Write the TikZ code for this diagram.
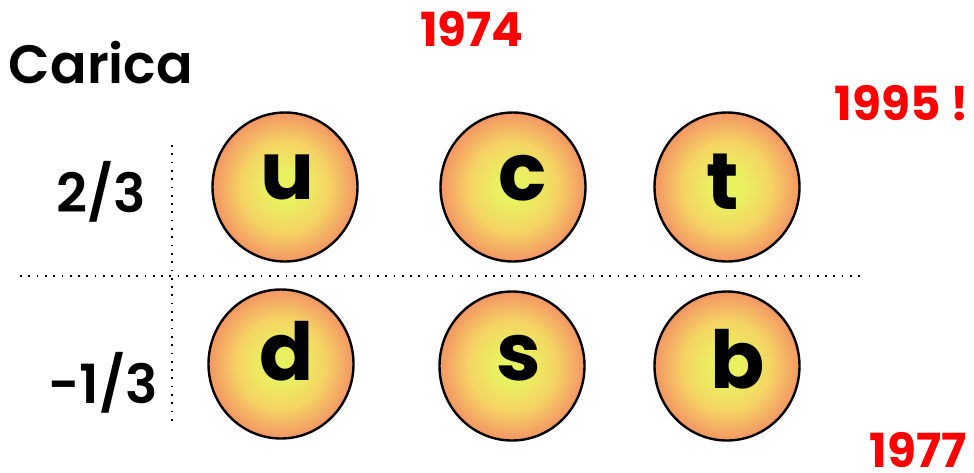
\documentclass[tikz,border=0pt]{standalone}
\usepackage{fontspec}
\setmainfont{Poppins}[BoldFont={Poppins SemiBold}]
\newfontfamily\popbold{Poppins Bold}
\usetikzlibrary{shapes.geometric}
\definecolor{qyel}{RGB}{232,242,96}
\definecolor{qmid}{RGB}{245,212,100}
\definecolor{qorg}{RGB}{243,150,100}
\definecolor{qred}{RGB}{255,0,0}
\pgfdeclareradialshading{quarkshade}{\pgfpoint{0bp}{0bp}}{color(0bp)=(qyel); color(5bp)=(qyel); color(15bp)=(qmid); color(25bp)=(qorg); color(50bp)=(qorg)}
\tikzset{
  quark/.style={ellipse, draw=black, line width=2.4pt, minimum width=145pt, minimum height=149pt, inner sep=0pt, shading=quarkshade},
  qletter/.style={anchor=base, inner sep=0pt, font=\fontsize{80}{90}\selectfont\popbold},
  bigtext/.style={anchor=base, inner sep=0pt, font=\fontsize{54}{62}\selectfont\bfseries},
  year/.style={anchor=base, inner sep=0pt, text=qred, font=\fontsize{47}{56}\selectfont\popbold},
  dotline/.style={line width=1.7pt, dash pattern=on 1.7pt off 6.6pt}
}
\begin{document}
\begin{tikzpicture}[x=1pt,y=-1pt]
\useasboundingbox (0,0) rectangle (974,472);
% dotted axes
\coordinate (hl) at (20,276);
\coordinate (hr) at (862,276);
\coordinate (vt) at (172,145);
\coordinate (vb) at (172,427);
\draw[dotline] (hl) -- (hr);
\draw[dotline] (vt) -- (vb);
% quark circles
\node[quark] (cu) at (285,187) {};
\node[quark] (cc) at (513,187) {};
\node[quark] (ct) at (727,187) {};
\node[quark] (cd) at (281,364) {};
\node[quark] (cs) at (512,366) {};
\node[quark] (cb) at (727,366) {};
% letters
\node[qletter] (lu) at (287,199) {u};
\node[qletter] (lc) at (523,200) {c};
\node[qletter] (lt) at (723,209) {t};
\node[qletter] (ld) at (287,380) {d};
\node[qletter] (ls) at (519,380) {s};
\node[qletter] (lb) at (738,388) {b};
% labels
\node[bigtext] (carica) at (101,83) {Carica};
\node[bigtext] (p23) at (101,212) {2/3};
\node[bigtext] (m13) at (103,403) {-1/3};
% years
\node[year] (y74) at (472,46) {1974};
\node[year] (y95) at (902,120) {1995 !};
\node[year] (y77) at (918,467) {1977};
\end{tikzpicture}
\end{document}
